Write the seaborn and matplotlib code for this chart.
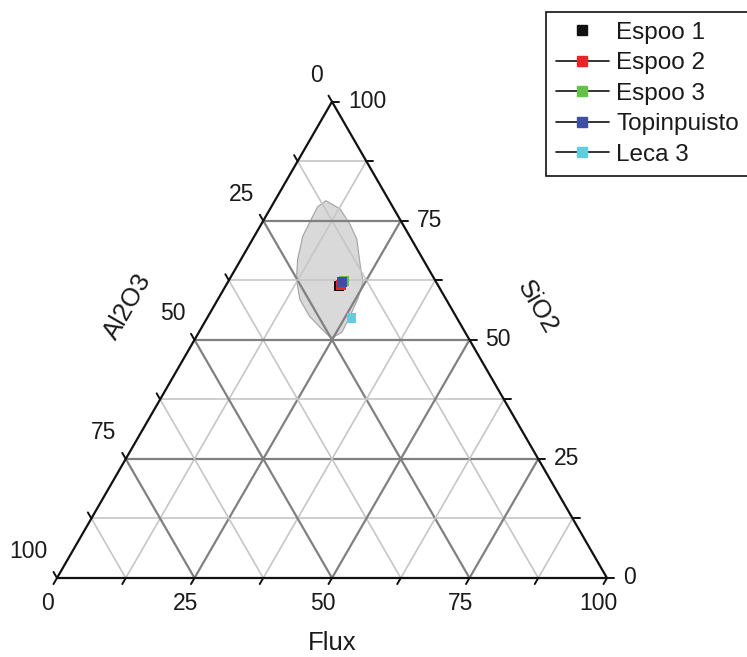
import numpy as np
import pandas as pd
import matplotlib.pyplot as plt
import seaborn as sns
from matplotlib.lines import Line2D

# sample compositions (wt %)
samples = ['Espoo 1', 'Espoo 2', 'Espoo 3', 'Topinpuisto', 'Leca 3']
sio2    = [61.3, 61.6, 62.3, 62.1, 54.5]
flux    = [20.6, 20.8, 21.0, 20.8, 26.3]
colors  = ['#111111', '#e8262a', '#66c04a', '#3d4fa5', '#63cde0']

# outline of the grey field (SiO2, Flux)
field_sio2 = [79.2, 77.5, 74.3, 71.2, 65.5, 62.1, 58.5, 54.9, 51.6, 50.5,
              50.7, 52.2, 54.9, 58.5, 62.7, 66.9, 71.8, 77.9]
field_flux = [9.3, 12.7, 16.1, 18.9, 22.4, 24.6, 25.4, 25.8, 26.0, 24.9,
              24.2, 22.1, 18.5, 14.9, 12.2, 10.3, 8.8, 8.4]

grid_vals  = [12.5, 25, 37.5, 50, 62.5, 75, 87.5]
tick_vals  = [0, 12.5, 25, 37.5, 50, 62.5, 75, 87.5, 100]
label_vals = [0, 25, 50, 75, 100]

H = np.sqrt(3) / 2


def tern2xy(s, f):
    s = np.asarray(s, dtype=float) / 100
    f = np.asarray(f, dtype=float) / 100
    return f + s / 2, s * H


sns.set_style('white')
plt.rcParams['font.family'] = ['Liberation Sans', 'DejaVu Sans']
TXT = '#1a1a1a'
FS_TICK = 16.5
FS_TITLE = 18.5

fig = plt.figure(figsize=(7.47, 6.57), dpi=100)
ax = fig.add_axes([0, 0, 1, 1])
ax.set_xlim(-57 / 550, 690 / 550)
ax.set_ylim(-79 / 550, 578 / 550)
ax.axis('off')

# grey field
fx, fy = tern2xy(field_sio2, field_flux)
ax.fill(fx, fy, facecolor='#d9d9d9', edgecolor='#a8a8a8', lw=0.9, zorder=1)

# grid
for v in grid_vals:
    major = v % 25 == 0
    col = '#808080' if major else '#c6c6c6'
    lw = 1.6 if major else 1.2
    for s_, f_ in [([v, v], [0, 100 - v]),          # SiO2 = v
                   ([0, 100 - v], [v, v]),          # Flux = v
                   ([0, 100 - v], [100 - v, 0])]:   # Al2O3 = v
        gx, gy = tern2xy(s_, f_)
        ax.plot(gx, gy, color=col, lw=lw, zorder=2, solid_capstyle='butt')

# triangle
ex, ey = tern2xy([0, 0, 100, 0], [0, 100, 0, 0])
ax.plot(ex, ey, color='#111111', lw=1.6, zorder=3)

# ticks + labels
L = 7 / 550
for v in tick_vals:
    for (px, py), (dx, dy) in [(tern2xy(0, v), (-0.5, -H)),
                               (tern2xy(v, 100 - v), (1, 0)),
                               (tern2xy(100 - v, 0), (-0.5, H))]:
        ax.plot([px, px + L * dx], [py, py + L * dy], color='#111111', lw=1.4, zorder=3)

for v in label_vals:
    bx, by = tern2xy(0, v)
    ax.annotate(f'{v}', (bx, by), xytext=(-9, -25), textcoords='offset pixels',
                ha='center', va='center', fontsize=FS_TICK, color=TXT)
    rx, ry = tern2xy(v, 100 - v)
    ax.annotate(f'{v}', (rx, ry), xytext=(16, 0), textcoords='offset pixels',
                ha='left', va='center', fontsize=FS_TICK, color=TXT)
    lx, ly = tern2xy(100 - v, 0)
    ax.annotate(f'{v}', (lx, ly), xytext=(-9, 26), textcoords='offset pixels',
                ha='right', va='center', fontsize=FS_TICK, color=TXT)

fig.text(332 / 747, 1 - 643 / 657, 'Flux', ha='center', va='center', fontsize=FS_TITLE, color=TXT)
fig.text(127.5 / 747, 1 - 306.5 / 657, 'Al2O3', ha='center', va='center',
         rotation=60, fontsize=FS_TITLE, color=TXT)
fig.text(537.5 / 747, 1 - 307.5 / 657, 'SiO2', ha='center', va='center',
         rotation=-60, fontsize=FS_TITLE, color=TXT)

# samples
px, py = tern2xy(sio2, flux)
df = pd.DataFrame({'sample': samples, 'x': px, 'y': py})
sns.scatterplot(data=df, x='x', y='y', hue='sample', palette=dict(zip(samples, colors)),
                marker='s', s=50, edgecolor='none', legend=False, ax=ax, zorder=5)
ax.set_xlabel('')
ax.set_ylabel('')

handles = []
for i, (name, c) in enumerate(zip(samples, colors)):
    handles.append(Line2D([], [], color='#111111', lw=1.2,
                          linestyle='None' if i == 0 else '-',
                          marker='s', markersize=7,
                          markerfacecolor=c, markeredgecolor=c))
leg = fig.legend(handles, samples, loc='upper left',
                 bbox_to_anchor=(546 / 747, 1 - 12 / 657), borderaxespad=0,
                 fontsize=17.5, frameon=True, fancybox=False, edgecolor='#111111',
                 framealpha=1, borderpad=0.4, labelspacing=0.35,
                 handlelength=2.2, handletextpad=0.3)
leg.get_frame().set_linewidth(1.2)
for t in leg.get_texts():
    t.set_color(TXT)

fig.savefig('out.png', dpi=100)
